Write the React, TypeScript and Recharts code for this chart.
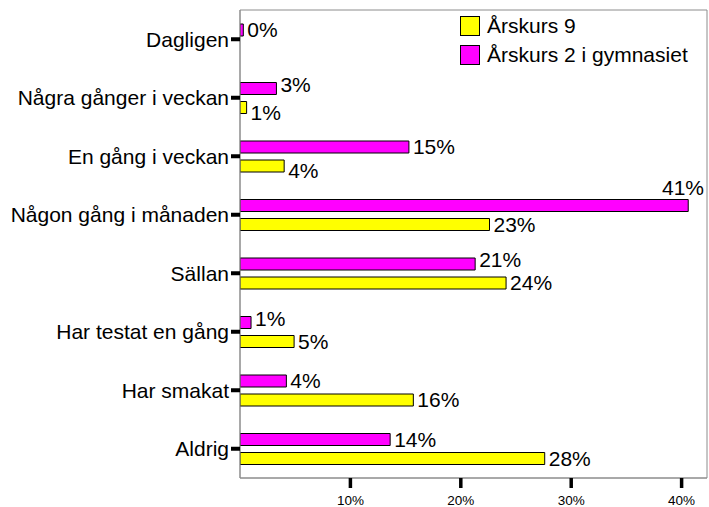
import React from 'react';
import { BarChart, Bar, XAxis, YAxis, Legend, LabelList, CartesianGrid } from 'recharts';

const categories = [
  'Dagligen',
  'Några gånger i veckan',
  'En gång i veckan',
  'Någon gång i månaden',
  'Sällan',
  'Har testat en gång',
  'Har smakat',
  'Aldrig',
];
const gymnasiet: (number | null)[] = [0.3, 3.3, 15.3, 40.6, 21.3, 1.0, 4.2, 13.6];
const arskurs9: (number | null)[] = [null, 0.6, 4.0, 22.6, 24.1, 4.9, 15.7, 27.6];
const xTicks = [10, 20, 30, 40];
const DOMAIN_MAX = 42.3;

const SERIES_9 = 'Årskurs 9';
const SERIES_G = 'Årskurs 2 i gymnasiet';
const YELLOW = '#FFFF00';
const MAGENTA = '#FF00FF';

const data = categories.map((name, i) => ({ name, g: gymnasiet[i], a9: arskurs9[i] }));

const FONT = '"Liberation Sans", Arial, sans-serif';
const FS = 21;

const makeLabel = (own: (number | null)[], other: (number | null)[], shift: number) => (props: any) => {
  const { x, y, width, height, value, index } = props;
  if (value == null) return null;
  const v = Number(value);
  const text = `${Math.round(v)}%`;
  const ratio = v > 0 ? Number(width) / v : 11;
  const plotRight = Number(x) + DOMAIN_MAX * ratio;
  const barEnd = Number(x) + Number(width);
  const textW = text.length * 12;
  const cy = Number(y) + Number(height) / 2;
  const o = other[index];
  let dy = 0;
  if (o != null && o > 0 && Math.abs(o - v) < 4.5) dy = shift;
  if (barEnd + 4 + textW > plotRight) {
    return (
      <text x={plotRight - 3} y={Number(y) - 4.5} textAnchor="end" fontFamily={FONT} fontSize={FS} fill="#000">
        {text}
      </text>
    );
  }
  return (
    <text x={barEnd + 4} y={cy + 7 + dy} textAnchor="start" fontFamily={FONT} fontSize={FS} fill="#000">
      {text}
    </text>
  );
};

const LegendContent = (props: any) => {
  const items = [...(props.payload || [])].reverse();
  return (
    <div style={{ fontFamily: FONT, fontSize: FS }}>
      {items.map((it: any, i: number) => (
        <div key={i} style={{ display: 'flex', alignItems: 'center', height: 29 }}>
          <div style={{ width: 18, height: 18, background: it.color, border: '1px solid #000', marginRight: 7 }} />
          <span style={{ color: '#000', lineHeight: '21px' }}>{it.value}</span>
        </div>
      ))}
    </div>
  );
};

export default function App() {
  return (
    <div style={{ position: 'absolute', left: 0, top: 0, background: '#fff' }}>
      <BarChart
        width={709}
        height={507}
        data={data}
        layout="vertical"
        margin={{ top: 10, right: 2, bottom: 0, left: 0 }}
        barSize={12}
        barGap={7}
      >
        <CartesianGrid
          stroke="#8c8c8c"
          strokeWidth={1}
          horizontalCoordinatesGenerator={(p: any) => [p.offset.top, p.offset.top + p.offset.height]}
          verticalCoordinatesGenerator={(p: any) => [p.offset.left, p.offset.left + p.offset.width]}
        />
        <XAxis
          type="number"
          domain={[0, DOMAIN_MAX]}
          ticks={xTicks}
          interval={0}
          allowDataOverflow
          tickFormatter={(v: number) => `${v}%`}
          height={29}
          tickSize={10}
          tickMargin={7}
          axisLine={{ stroke: '#8c8c8c', strokeWidth: 1 }}
          tickLine={{ stroke: '#000', strokeWidth: 3.5 }}
          tick={{ fill: '#000', fontSize: 13.5, fontFamily: FONT }}
        />
        <YAxis
          type="category"
          dataKey="name"
          width={240}
          interval={0}
          tickSize={9}
          tickMargin={2}
          axisLine={{ stroke: '#8c8c8c', strokeWidth: 1 }}
          tickLine={{ stroke: '#000', strokeWidth: 4 }}
          tick={{ fill: '#000', fontSize: FS, fontFamily: FONT }}
        />
        <Legend
          layout="vertical"
          align="center"
          verticalAlign="middle"
          content={LegendContent}
          wrapperStyle={{ position: 'absolute', left: 460, top: 11, width: 249 }}
        />
        <Bar dataKey="g" name={SERIES_G} fill={MAGENTA} stroke="#000" strokeWidth={1} isAnimationActive={false}>
          <LabelList dataKey="g" content={makeLabel(gymnasiet, arskurs9, -4)} />
        </Bar>
        <Bar dataKey="a9" name={SERIES_9} fill={YELLOW} stroke="#000" strokeWidth={1} isAnimationActive={false}>
          <LabelList dataKey="a9" content={makeLabel(arskurs9, gymnasiet, 5)} />
        </Bar>
      </BarChart>
    </div>
  );
}
